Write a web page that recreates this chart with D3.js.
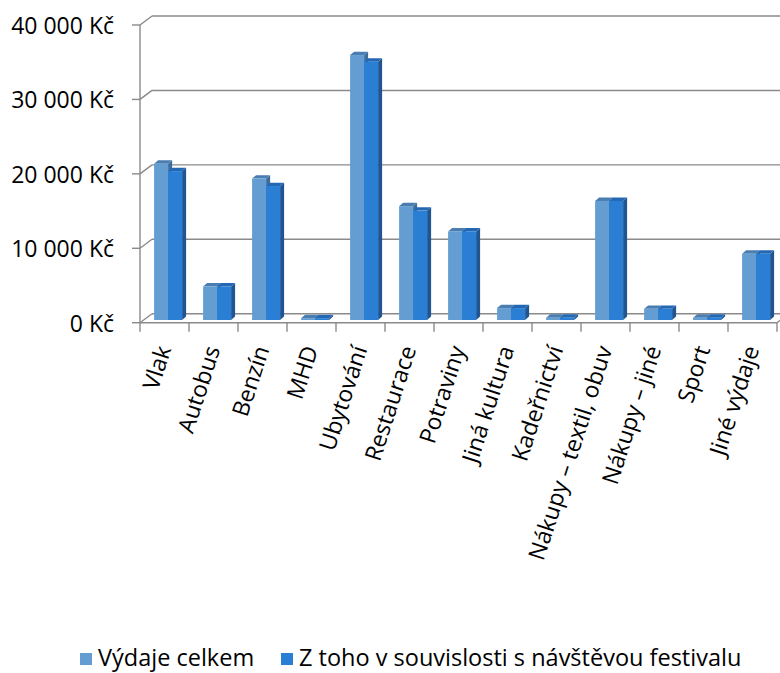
<!DOCTYPE html>
<meta charset="utf-8">
<style>
  body { margin: 0; background: #fff; }
  text { font-family: "Open Sans", sans-serif; fill: #000; }
</style>
<body>
<script src="https://cdn.jsdelivr.net/npm/d3@7"></script>
<script>

    var width = 780,
        height = 673;

    // data
    var categories = ["Vlak", "Autobus", "Benzín", "MHD", "Ubytování", "Restaurace", "Potraviny",
        "Jiná kultura", "Kadeřnictví", "Nákupy – textil, obuv", "Nákupy – jiné", "Sport", "Jiné výdaje"];
    var vydajeCelkem = [21000, 4500, 19000, 250, 35600, 15300, 11900, 1600, 300, 16000, 1500, 300, 8900];
    var zTohoFestival = [20000, 4500, 18000, 250, 34700, 14700, 11900, 1600, 300, 16000, 1500, 300, 8900];
    var seriesNames = ["Výdaje celkem", "Z toho v souvislosti s návštěvou festivalu"];
    var yTicks = [0, 10000, 20000, 30000, 40000];

    var series = [vydajeCelkem, zTohoFestival];
    var colors = [
        {front: "#639dd2", side: "#3d6c9c", top: "#4a7db0"},
        {front: "#2a7fd4", side: "#1f5592", top: "#2468b4"}
    ];

    // 3d offsets
    var wallDx = 12, wallDy = -9;     // back wall
    var barDx = 3.6, barDy = -2.7;    // bar front plane
    var sideDx = 4, sideDy = -3.4;    // bar depth

    var svg = d3.select("body").append("svg")
            .attr("width", width)
            .attr("height", height);

    var x = d3.scaleBand()
            .domain(categories)
            .range([140, 777]);

    var xs = d3.scaleBand()
            .domain([0, 1])
            .range([0, 28]);

    var y = d3.scaleLinear()
            .domain([0, 40000])
            .range([322.7, 25]);

    var fmt = function(v) {
        return d3.format(",")(v).replace(/,/g, " ") + " Kč";
    };

    var gridColor = "#8a8a8a";
    var grid = svg.append("g")
            .attr("stroke", gridColor)
            .attr("stroke-width", 1.4)
            .attr("fill", "none");

    // back wall grid + left wall diagonals
    yTicks.forEach(function(t) {
        grid.append("line")
                .attr("x1", 140 + wallDx).attr("x2", width)
                .attr("y1", y(t) + wallDy).attr("y2", y(t) + wallDy);
        grid.append("line")
                .attr("x1", 140).attr("x2", 140 + wallDx)
                .attr("y1", y(t)).attr("y2", y(t) + wallDy);
        grid.append("line")
                .attr("x1", 132).attr("x2", 140)
                .attr("y1", y(t)).attr("y2", y(t));
    });

    // y axis line
    grid.append("line")
            .attr("x1", 140).attr("x2", 140)
            .attr("y1", y(40000)).attr("y2", y(0));

    // floor front edge and right diagonal
    grid.append("line")
            .attr("x1", 140).attr("x2", 777)
            .attr("y1", y(0)).attr("y2", y(0));
    grid.append("line")
            .attr("x1", 777).attr("x2", 777 + wallDx)
            .attr("y1", y(0)).attr("y2", y(0) + wallDy);

    // category ticks
    var edges = categories.map(function(c) { return x(c); }).concat([x.range()[1]]);
    edges.forEach(function(e) {
        grid.append("line")
                .attr("x1", e).attr("x2", e)
                .attr("y1", y(0)).attr("y2", y(0) + 9);
    });

    // y labels
    svg.append("g").selectAll("text")
            .data(yTicks)
            .enter().append("text")
            .attr("x", 114)
            .attr("y", function(d) { return y(d) + 1; })
            .attr("dy", "0.35em")
            .attr("text-anchor", "end")
            .style("font-size", "23px")
            .text(fmt);

    // bars
    var pad = (x.bandwidth() - xs.range()[1]) / 2;

    function drawBar(g, x0, w, v, col) {
        var yb = y(0) + barDy, yt = y(v) + barDy;
        // side face
        g.append("path")
                .attr("d", "M" + (x0 + w) + "," + yb +
                        "L" + (x0 + w + sideDx) + "," + (yb + sideDy) +
                        "L" + (x0 + w + sideDx) + "," + (yt + sideDy) +
                        "L" + (x0 + w) + "," + yt + "Z")
                .attr("fill", col.side);
        // top face
        g.append("path")
                .attr("d", "M" + x0 + "," + yt +
                        "L" + (x0 + sideDx) + "," + (yt + sideDy) +
                        "L" + (x0 + w + sideDx) + "," + (yt + sideDy) +
                        "L" + (x0 + w) + "," + yt + "Z")
                .attr("fill", col.top);
        // front face
        g.append("rect")
                .attr("x", x0).attr("y", yt)
                .attr("width", w).attr("height", Math.max(0, yb - yt))
                .attr("fill", col.front);
    }

    var bars = svg.append("g");
    categories.forEach(function(c, i) {
        series.forEach(function(s, k) {
            var x0 = x(c) + barDx + pad + xs(k);
            drawBar(bars, x0, xs.bandwidth(), s[i], colors[k]);
        });
    });

    // x labels
    svg.append("g").selectAll("text")
            .data(categories)
            .enter().append("text")
            .attr("text-anchor", "end")
            .attr("transform", function(d) {
                return "translate(" + (x(d) + x.bandwidth() / 2 + 7) + ",349) rotate(-72)";
            })
            .style("font-size", "23px")
            .text(function(d) { return d; });

    // legend
    var legendX = [80, 281];
    var legend = svg.append("g");
    seriesNames.forEach(function(n, k) {
        legend.append("rect")
                .attr("x", legendX[k]).attr("y", 653)
                .attr("width", 12).attr("height", 12)
                .attr("fill", colors[k].front);
        legend.append("text")
                .attr("x", legendX[k] + 18).attr("y", 666)
                .style("font-size", "23.5px")
                .text(n);
    });

</script>
